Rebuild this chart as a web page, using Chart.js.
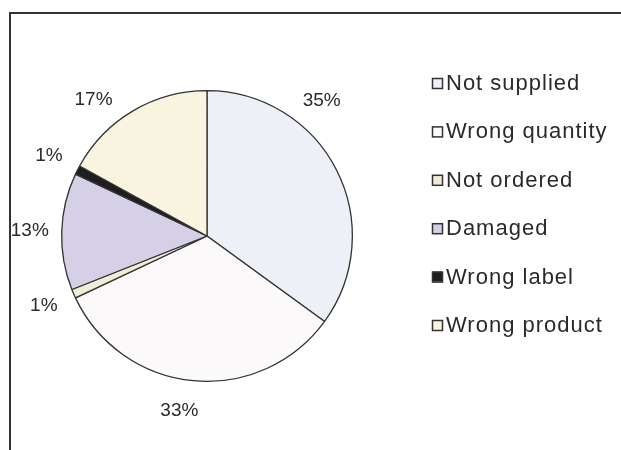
<!DOCTYPE html>
<html>
<head>
<meta charset="utf-8">
<script src="https://cdn.jsdelivr.net/npm/chart.js@4/dist/chart.umd.min.js"></script>
<style>
  html, body { margin: 0; padding: 0; background: #fff; }
  #wrap { position: relative; width: 621px; height: 450px; overflow: hidden; }
  #frame { position: absolute; left: 9px; top: 12px; width: 640px; height: 460px;
           border-left: 2px solid #333; border-top: 2px solid #333; }
  canvas { position: absolute; left: 0; top: 0; }
</style>
</head>
<body>
<div id="wrap">
  <div id="frame"></div>
  <canvas id="chart" width="621" height="450"></canvas>
</div>
<script>
const categories = ['Not supplied', 'Wrong quantity', 'Not ordered', 'Damaged', 'Wrong label', 'Wrong product'];
const shares = [35, 33, 1, 13, 1, 17];
const sliceColors = ['#eef0f7', '#fbf9f9', '#f1ecd8', '#d5d0e5', '#1e1e1e', '#f8f4e0'];

// where along each slice the percent label sits (0 = start, 1 = end)
const labelAlong = [0.32, 0.53, 0.6, 0.5, 0.5, 0.35];

const FONT = '"Liberation Sans", Arial, sans-serif';

const outsideLabels = {
  id: 'outsideLabels',
  afterDatasetsDraw(chart) {
    const ctx = chart.ctx;
    const meta = chart.getDatasetMeta(0);
    ctx.save();
    ctx.font = '19px ' + FONT;
    ctx.fillStyle = '#2a2a2a';
    ctx.textAlign = 'center';
    ctx.textBaseline = 'middle';
    meta.data.forEach((arc, i) => {
      const p = arc.getProps(['x', 'y', 'startAngle', 'endAngle', 'outerRadius'], true);
      const a = p.startAngle + (p.endAngle - p.startAngle) * labelAlong[i];
      const d = p.outerRadius * 1.22;
      ctx.fillText(shares[i] + '%', p.x + Math.cos(a) * d, p.y + Math.sin(a) * d);
    });
    ctx.restore();
  }
};

const sideLegend = {
  id: 'sideLegend',
  afterDraw(chart) {
    const ctx = chart.ctx;
    const ds = chart.data.datasets[0];
    ctx.save();
    ctx.font = '22px ' + FONT;
    ctx.letterSpacing = '1px';
    ctx.textBaseline = 'middle';
    chart.data.labels.forEach((label, i) => {
      const y = 83 + i * 48.4;
      ctx.fillStyle = ds.backgroundColor[i];
      ctx.fillRect(432, y - 5, 10, 10);
      ctx.strokeStyle = '#333';
      ctx.lineWidth = 1.5;
      ctx.strokeRect(432.5, y - 4.5, 10, 10);
      ctx.fillStyle = '#2a2a2a';
      ctx.fillText(label, 446, y + 1);
    });
    ctx.restore();
  }
};

new Chart(document.getElementById('chart'), {
  type: 'pie',
  data: {
    labels: categories,
    datasets: [{
      data: shares,
      backgroundColor: sliceColors,
      borderColor: '#333',
      borderWidth: 1.3,
      hoverOffset: 0
    }]
  },
  options: {
    responsive: false,
    animation: false,
    layout: { padding: { top: 90, bottom: 68, left: 61, right: 268 } },
    plugins: {
      legend: { display: false },
      tooltip: { enabled: false }
    }
  },
  plugins: [outsideLabels, sideLegend]
});
</script>
</body>
</html>
